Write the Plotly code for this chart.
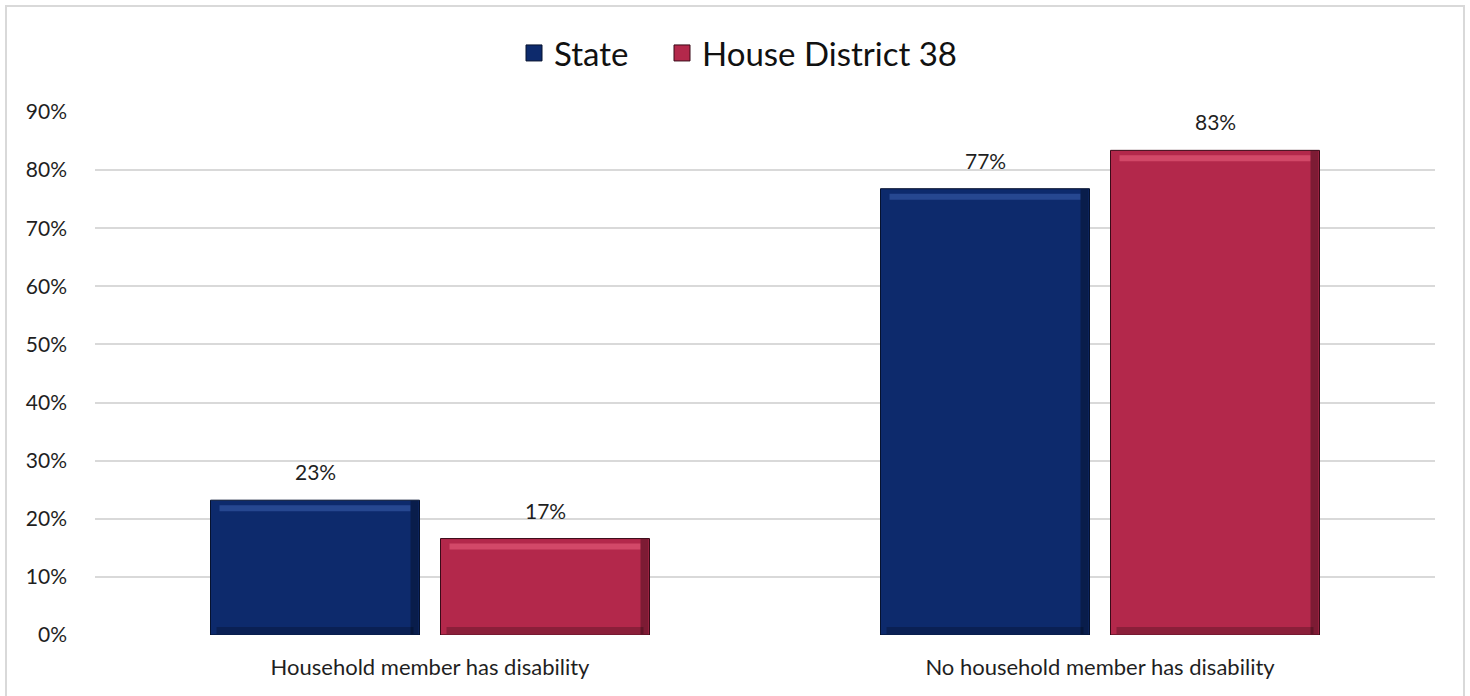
import plotly.graph_objects as go

categories = ["Household member has disability", "No household member has disability"]
series_names = ["State", "House District 38"]
state_values = [0.232, 0.768]
district_values = [0.166, 0.834]
tick_values = [0, 0.1, 0.2, 0.3, 0.4, 0.5, 0.6, 0.7, 0.8, 0.9]
tick_labels = ["0%", "10%", "20%", "30%", "40%", "50%", "60%", "70%", "80%", "90%"]

colors = ["#0d2a6c", "#b3284b"]
highlight_colors = ["#2d4f9a", "#d9506f"]
edge_colors = ["#06122f", "#3a0a18"]

W, H = 1470, 696
ml, mr, mt, mb = 95, 35, 112, 61
pw, ph = W - ml - mr, H - mt - mb
YMAX = 0.9
unit = ph / YMAX          # pixels per data unit on y
cat_px = pw / len(categories)   # pixels per category on x

FONT = "Lato, 'Open Sans', sans-serif"
TXT = "#1f1f1f"

bar_w = 209 / cat_px
offsets = [-219.5 / cat_px, 10.5 / cat_px]
label_shift = [-115, 115]
legend_ids = ["legend", "legend2"]

fig = go.Figure()
for i, (name, vals, c, hc, ec) in enumerate(zip(series_names, [state_values, district_values],
                                                  colors, highlight_colors, edge_colors)):
    off = offsets[i]
    # main bar
    fig.add_trace(go.Bar(
        x=categories, y=vals, name=name, offset=off, width=bar_w,
        marker=dict(color=c, line=dict(color=ec, width=1)),
        showlegend=False, hoverinfo="x+y",
    ))
    # top bevel highlight
    fig.add_trace(go.Bar(
        x=categories, y=[6 / unit] * len(vals), base=[v - 11 / unit for v in vals],
        offset=off + 9 / cat_px, width=bar_w - 18 / cat_px,
        marker=dict(color=hc, line=dict(width=0)), opacity=0.8,
        showlegend=False, hoverinfo="skip",
    ))
    # bottom bevel shadow
    fig.add_trace(go.Bar(
        x=categories, y=[7 / unit] * len(vals), base=[1 / unit] * len(vals),
        offset=off + 6 / cat_px, width=bar_w - 12 / cat_px,
        marker=dict(color="rgba(0,0,0,0.22)", line=dict(width=0)),
        showlegend=False, hoverinfo="skip",
    ))
    # right edge shadow
    fig.add_trace(go.Bar(
        x=categories, y=[v - 1 / unit for v in vals], base=[0.5 / unit] * len(vals),
        offset=off + bar_w - 9 / cat_px, width=8 / cat_px,
        marker=dict(color="rgba(0,0,0,0.30)", line=dict(width=0)),
        showlegend=False, hoverinfo="skip",
    ))
    # legend entry
    fig.add_trace(go.Scatter(
        x=[None], y=[None], mode="markers", name=name, legend=legend_ids[i],
        marker=dict(symbol="square", size=21, color=c, line=dict(color=ec, width=1)),
        showlegend=True,
    ))
    # value labels
    for cat, v in zip(categories, vals):
        fig.add_annotation(x=cat, y=v, text=f"{round(v * 100)}%", showarrow=False,
                           xshift=label_shift[i], yshift=14, yanchor="bottom",
                           font=dict(size=21, color=TXT, family=FONT))

def px_x(p):
    return (p - ml) / pw

def px_y(p):
    return (H - mb - p) / ph

# outer chart border
fig.add_shape(type="rect", xref="paper", yref="paper",
              x0=px_x(6), x1=px_x(1464), y0=px_y(702), y1=px_y(6),
              line=dict(color="#d9d9d9", width=2), fillcolor="rgba(0,0,0,0)", layer="below")

legend_style = dict(orientation="h", xanchor="left", y=px_y(53), yanchor="middle",
                    font=dict(size=33, color="#111111", family=FONT), itemwidth=30,
                    bgcolor="rgba(0,0,0,0)")

fig.update_layout(
    width=W, height=H, autosize=False,
    margin=dict(l=ml, r=mr, t=mt, b=mb),
    paper_bgcolor="white", plot_bgcolor="white",
    font=dict(family=FONT, color=TXT),
    barmode="overlay",
    legend=dict(x=px_x(514), **legend_style),
    legend2=dict(x=px_x(662), **legend_style),
    xaxis=dict(showgrid=False, showline=False, ticks="", zeroline=False,
               ticklabelstandoff=17, tickfont=dict(size=22, color=TXT)),
    yaxis=dict(range=[0, YMAX], tickvals=tick_values, ticktext=tick_labels,
               showgrid=True, gridcolor="#d9d9d9", gridwidth=1.5, zeroline=False,
               showline=False, ticks="", ticklabelstandoff=27,
               tickfont=dict(size=21, color=TXT)),
)

fig.write_html("out.html", config={"displayModeBar": False},
               post_script="document.body.style.margin='0';")
